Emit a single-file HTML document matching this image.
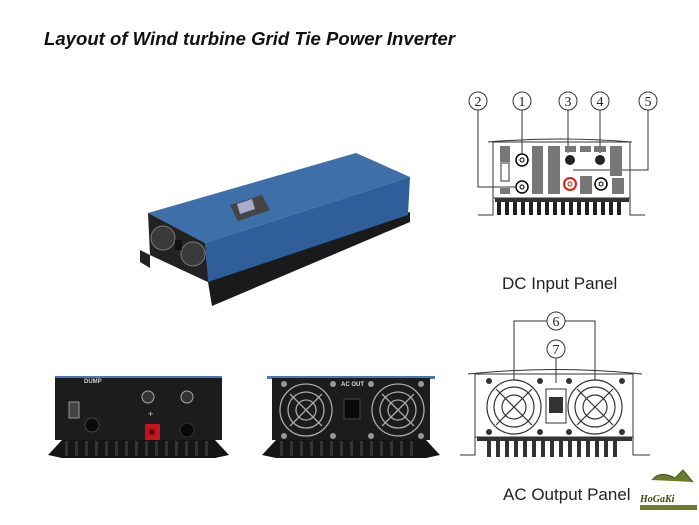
<!DOCTYPE html>
<html><head><meta charset="utf-8"><style>
html,body{margin:0;padding:0;background:#fff;width:699px;height:525px;overflow:hidden}
svg{display:block}
</style></head><body>
<svg width="699" height="525" viewBox="0 0 699 525" xmlns="http://www.w3.org/2000/svg" font-family="Liberation Sans, sans-serif">
<text x="44" y="45" font-size="18" font-weight="bold" font-style="italic" fill="#111" textLength="411" lengthAdjust="spacingAndGlyphs">Layout of Wind turbine Grid Tie Power Inverter</text>

<!-- main 3D inverter -->
<polygon points="150,255 208,282 212,306 410,222 410,212 230,270 150,240" fill="#1a1a1a"/>
<polygon points="140,250 150,255 150,268 140,262" fill="#222"/>
<polygon points="148,213 356,153 410,177 205,243" fill="#3f6fa8"/>
<polygon points="205,243 410,177 408,215 208,282" fill="#2f5e9a"/>
<polygon points="148,213 205,243 208,282 150,255" fill="#222"/>
<circle cx="163" cy="238" r="12" fill="#3a3a3a" stroke="#777"/>
<circle cx="193" cy="254" r="12" fill="#3a3a3a" stroke="#777"/>
<rect x="175" y="240" width="7" height="10" fill="#111"/>
<polygon points="230,205 262,195 270,210 238,221" fill="#444"/>
<polygon points="237,204 252,199 255,209 240,214" fill="#aac"/>

<!-- DC panel drawing -->
<g stroke="#333" fill="none" stroke-width="1">
<circle cx="478" cy="101" r="9"/><circle cx="522" cy="101" r="9"/><circle cx="568" cy="101" r="9"/><circle cx="600" cy="101" r="9"/><circle cx="648" cy="101" r="9"/>
<path d="M478 110 V187 H515"/><path d="M522 110 V153"/><path d="M568 110 V153"/><path d="M600 110 V153"/><path d="M648 110 V170 H573"/>
<path d="M488 142 Q560 136 632 142"/>
<rect x="493" y="142" width="137" height="56"/>
<path d="M478 215 H493 V198 M630 198 V215 H645"/>
</g>
<g font-family="Liberation Serif, serif" font-size="14" fill="#222" text-anchor="middle">
<text x="478" y="106">2</text><text x="522" y="106">1</text><text x="568" y="106">3</text><text x="600" y="106">4</text><text x="648" y="106">5</text>
<text x="556" y="326">6</text><text x="556" y="354">7</text>
</g>
<g fill="#333">
<rect x="495" y="198" width="134" height="4"/>
<g fill="#222"><rect x="497" y="202" width="4" height="13"/><rect x="505" y="202" width="4" height="13"/><rect x="513" y="202" width="4" height="13"/><rect x="521" y="202" width="4" height="13"/><rect x="529" y="202" width="4" height="13"/><rect x="537" y="202" width="4" height="13"/><rect x="545" y="202" width="4" height="13"/><rect x="553" y="202" width="4" height="13"/><rect x="561" y="202" width="4" height="13"/><rect x="569" y="202" width="4" height="13"/><rect x="577" y="202" width="4" height="13"/><rect x="585" y="202" width="4" height="13"/><rect x="593" y="202" width="4" height="13"/><rect x="601" y="202" width="4" height="13"/><rect x="609" y="202" width="4" height="13"/><rect x="617" y="202" width="4" height="13"/></g>
</g>
<g fill="#777">
<rect x="500" y="146" width="10" height="16"/><rect x="532" y="146" width="11" height="48"/><rect x="548" y="146" width="12" height="48"/><rect x="565" y="146" width="11" height="6"/><rect x="580" y="146" width="11" height="6"/><rect x="594" y="146" width="12" height="6"/><rect x="610" y="146" width="12" height="30"/><rect x="580" y="176" width="12" height="18"/><rect x="612" y="178" width="12" height="16"/><rect x="500" y="188" width="10" height="6"/>
</g>
<rect x="501" y="163" width="8" height="18" fill="#fff" stroke="#333"/>
<g stroke="#000" stroke-width="1.5" fill="#fff"><circle cx="522" cy="160" r="6"/><circle cx="522" cy="187" r="6"/><circle cx="601" cy="184" r="6"/></g>
<circle cx="522" cy="160" r="2" fill="none" stroke="#000"/><circle cx="522" cy="187" r="2" fill="none" stroke="#000"/><circle cx="601" cy="184" r="2" fill="none" stroke="#000"/>
<circle cx="570" cy="160" r="5" fill="#222"/><circle cx="600" cy="160" r="5" fill="#222"/>
<circle cx="570" cy="184" r="6" fill="#fff" stroke="#d21" stroke-width="2"/><circle cx="570" cy="184" r="2" fill="none" stroke="#d21"/>
<text x="502" y="289" font-size="17" fill="#222">DC Input Panel</text>

<!-- AC panel drawing -->
<g stroke="#333" fill="none">
<circle cx="556" cy="321" r="9"/><circle cx="556" cy="349" r="9"/>
<path d="M547 321 H514 V380 M565 321 H595 V380 M556 358 V383"/>
<path d="M468 374 Q555 365 642 374"/>
<rect x="475" y="374" width="158" height="63"/>
<path d="M460 455 H475 V437 M633 437 V455 H650"/>
</g>
<g stroke="#333" stroke-width="1.2" fill="none">
<circle cx="514" cy="407" r="27"/><circle cx="514" cy="407" r="20"/><circle cx="514" cy="407" r="12"/><path d="M496 389 L532 425 M532 389 L496 425"/>
<circle cx="595" cy="407" r="27"/><circle cx="595" cy="407" r="20"/><circle cx="595" cy="407" r="12"/><path d="M577 389 L613 425 M613 389 L577 425"/>
</g>
<rect x="546" y="389" width="20" height="34" fill="#fff" stroke="#333"/>
<rect x="549" y="397" width="14" height="16" fill="#333"/>
<g fill="#333"><circle cx="489" cy="381" r="3"/><circle cx="540" cy="381" r="3"/><circle cx="569" cy="381" r="3"/><circle cx="622" cy="381" r="3"/><circle cx="489" cy="432" r="3"/><circle cx="540" cy="432" r="3"/><circle cx="569" cy="432" r="3"/><circle cx="622" cy="432" r="3"/>
<rect x="477" y="437" width="155" height="4"/>
<rect x="487" y="441" width="4" height="16"/><rect x="496" y="441" width="4" height="16"/><rect x="505" y="441" width="4" height="16"/><rect x="514" y="441" width="4" height="16"/><rect x="523" y="441" width="4" height="16"/><rect x="532" y="441" width="4" height="16"/><rect x="541" y="441" width="4" height="16"/><rect x="550" y="441" width="4" height="16"/><rect x="559" y="441" width="4" height="16"/><rect x="568" y="441" width="4" height="16"/><rect x="577" y="441" width="4" height="16"/><rect x="586" y="441" width="4" height="16"/><rect x="595" y="441" width="4" height="16"/><rect x="604" y="441" width="4" height="16"/><rect x="613" y="441" width="4" height="16"/></g>
<text x="503" y="500" font-size="17" fill="#222">AC Output Panel</text>
<path d="M652 480 Q660 470 675 478 L683 470 L693 482" fill="#6a7d2a" stroke="#4a5a20"/>
<text x="640" y="502" font-size="10" font-weight="bold" font-style="italic" fill="#3a4a10" font-family="Liberation Serif, serif">HoGaKi</text>
<rect x="640" y="505" width="57" height="5" fill="#6a7d2a"/>

<!-- bottom photo left -->
<rect x="55" y="376" width="167" height="3" fill="#4a78b5"/>
<rect x="55" y="378" width="167" height="62" fill="#1c1c1c"/>
<polygon points="48,455 62,440 215,440 229,455 215,458 62,458" fill="#151515"/>
<g fill="#333"><rect x="65" y="441" width="3" height="15"/><rect x="75" y="441" width="3" height="15"/><rect x="85" y="441" width="3" height="15"/><rect x="95" y="441" width="3" height="15"/><rect x="105" y="441" width="3" height="15"/><rect x="115" y="441" width="3" height="15"/><rect x="125" y="441" width="3" height="15"/><rect x="135" y="441" width="3" height="15"/><rect x="145" y="441" width="3" height="15"/><rect x="155" y="441" width="3" height="15"/><rect x="165" y="441" width="3" height="15"/><rect x="175" y="441" width="3" height="15"/><rect x="185" y="441" width="3" height="15"/><rect x="195" y="441" width="3" height="15"/><rect x="205" y="441" width="3" height="15"/></g>
<text x="84" y="383" font-size="6" fill="#ccc" font-weight="bold">DUMP</text>
<rect x="69" y="402" width="10" height="16" fill="#444" stroke="#999"/>
<circle cx="92" cy="425" r="7" fill="#0a0a0a" stroke="#444"/>
<circle cx="148" cy="397" r="6" fill="#333" stroke="#aaa"/><circle cx="187" cy="397" r="6" fill="#333" stroke="#aaa"/>
<text x="148" y="417" font-size="9" fill="#ccc">+</text>
<rect x="145" y="424" width="15" height="16" fill="#c4141c"/><circle cx="152" cy="432" r="3" fill="#600"/>
<circle cx="187" cy="430" r="7" fill="#0a0a0a" stroke="#333"/>

<!-- bottom photo right -->
<rect x="267" y="376" width="168" height="3" fill="#4a78b5"/>
<rect x="272" y="378" width="158" height="62" fill="#1c1c1c"/>
<polygon points="262,455 276,440 426,440 440,455 426,458 276,458" fill="#151515"/>
<g fill="#333"><rect x="280" y="441" width="3" height="15"/><rect x="290" y="441" width="3" height="15"/><rect x="300" y="441" width="3" height="15"/><rect x="310" y="441" width="3" height="15"/><rect x="320" y="441" width="3" height="15"/><rect x="330" y="441" width="3" height="15"/><rect x="340" y="441" width="3" height="15"/><rect x="350" y="441" width="3" height="15"/><rect x="360" y="441" width="3" height="15"/><rect x="370" y="441" width="3" height="15"/><rect x="380" y="441" width="3" height="15"/><rect x="390" y="441" width="3" height="15"/><rect x="400" y="441" width="3" height="15"/><rect x="410" y="441" width="3" height="15"/></g>
<g stroke="#aaa" stroke-width="1.3" fill="none">
<circle cx="306" cy="410" r="26"/><circle cx="306" cy="410" r="18"/><circle cx="306" cy="410" r="10"/><path d="M290 394 L322 426 M322 394 L290 426"/>
<circle cx="398" cy="410" r="26"/><circle cx="398" cy="410" r="18"/><circle cx="398" cy="410" r="10"/><path d="M382 394 L414 426 M414 394 L382 426"/>
</g>
<g fill="#999"><circle cx="284" cy="384" r="3"/><circle cx="333" cy="384" r="3"/><circle cx="371" cy="384" r="3"/><circle cx="421" cy="384" r="3"/><circle cx="284" cy="436" r="3"/><circle cx="333" cy="436" r="3"/><circle cx="371" cy="436" r="3"/><circle cx="421" cy="436" r="3"/></g>
<text x="341" y="386" font-size="6" fill="#ddd" font-weight="bold">AC OUT</text>
<rect x="344" y="399" width="16" height="20" fill="#0a0a0a" stroke="#444"/>
</svg>
</body></html>
